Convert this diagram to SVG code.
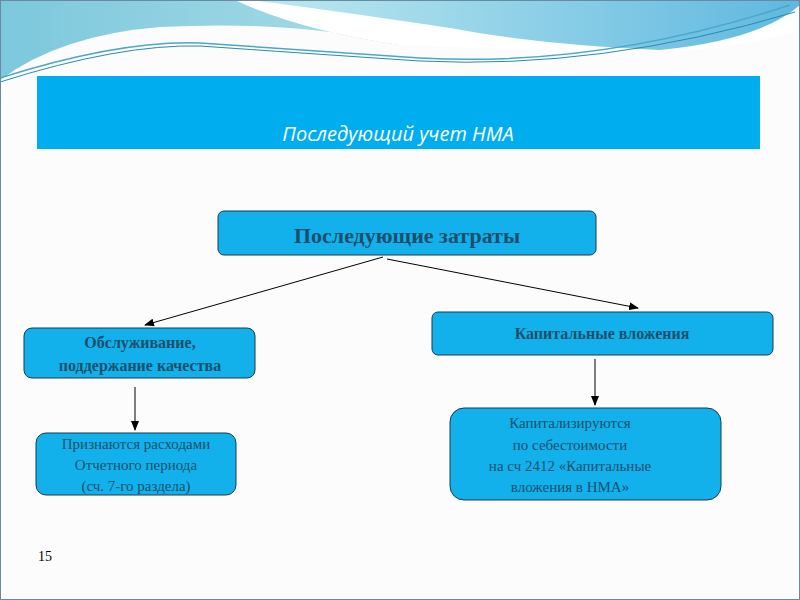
<svg xmlns="http://www.w3.org/2000/svg" width="800" height="600" viewBox="0 0 800 600">
<defs>
<style>
.box{fill:#12b1ec;stroke:#1a3a4a;stroke-width:1}
.t{font-family:"Liberation Serif",serif;fill:#1d4f6b;text-anchor:middle}
.b{font-weight:bold}
.c{stroke:#000;stroke-width:1;fill:none;marker-end:url(#a)}
</style>
<marker id="a" markerWidth="10" markerHeight="8" refX="9" refY="4" orient="auto" markerUnits="userSpaceOnUse"><path d="M0,0 L10,4 L0,8 Z" fill="#000"/></marker>
<linearGradient id="w1" x1="0" y1="0" x2="1" y2="0"><stop offset="0" stop-color="#7cc8dc"/><stop offset="1" stop-color="#a9dce8"/></linearGradient>
<linearGradient id="w2" x1="0" y1="0" x2="1" y2="0"><stop offset="0" stop-color="#bfe9ef"/><stop offset="1" stop-color="#5fb8e0"/></linearGradient>
</defs>
<rect width="800" height="600" fill="#fcfcfc"/>
<path d="M0,0 H235 Q300,30 400,45 Q300,20 160,27 Q60,35 0,80 Z" fill="url(#w1)"/>
<path d="M235,0 H800 V30 Q720,55 600,52 Q480,48 400,45 Q300,30 235,0 Z" fill="#fff"/>
<path d="M250,0 H800 V5 Q760,40 660,50 Q540,45 450,28 Q330,10 250,0 Z" fill="url(#w2)"/>
<path d="M0,78 Q120,40 200,43 Q300,50 420,58 Q600,68 790,5" stroke="#4aa8c8" stroke-width="1.5" fill="none"/>
<path d="M0,82 Q120,44 200,46 Q300,53 420,61 Q600,70 795,12" stroke="#2a8ab0" stroke-width="1" fill="none"/>
<rect x="0.5" y="0.5" width="799" height="599" fill="none" stroke="#6a8aa0"/>
<g id="title"><rect x="37" y="76" width="723" height="73" fill="#00aeef"/>
<text x="398" y="141" font-family="'Open Sans','Noto Sans',sans-serif" font-style="italic" font-size="20" fill="#fff" text-anchor="middle">Последующий учет НМА</text></g>
<g id="n1"><rect class="box" x="218" y="211" width="378" height="44" rx="6"/><text class="t b" x="407" y="243" font-size="22">Последующие затраты</text></g>
<g id="n2"><rect class="box" x="24" y="328" width="231" height="50" rx="8"/><text class="t b" x="140" y="348" font-size="16">Обслуживание,</text><text class="t b" x="140" y="371" font-size="16">поддержание качества</text></g>
<g id="n3"><rect class="box" x="432" y="312" width="341" height="43" rx="6"/><text class="t b" x="602" y="339" font-size="16">Капитальные вложения</text></g>
<g id="n4"><rect class="box" x="36" y="433" width="200" height="62" rx="10"/><text class="t" x="136" y="449" font-size="15">Признаются расходами</text><text class="t" x="136" y="470" font-size="15">Отчетного периода</text><text class="t" x="136" y="491" font-size="15">(сч. 7-го раздела)</text></g>
<g id="n5"><rect class="box" x="450" y="408" width="271" height="92" rx="14"/><text class="t" x="570" y="428" font-size="15">Капитализируются</text><text class="t" x="570" y="450" font-size="15">по себестоимости</text><text class="t" x="570" y="471" font-size="15">на сч 2412 «Капитальные</text><text class="t" x="570" y="492" font-size="15">вложения в НМА»</text></g>
<g id="connectors">
<line class="c" x1="383" y1="257" x2="145" y2="325"/>
<line class="c" x1="387" y1="259" x2="638" y2="308"/>
<line class="c" x1="135" y1="387" x2="135" y2="430"/>
<line class="c" x1="595" y1="359" x2="595" y2="405"/>
</g>
<text x="38" y="561" font-family="'Liberation Serif',serif" font-size="14" fill="#000">15</text>
</svg>
